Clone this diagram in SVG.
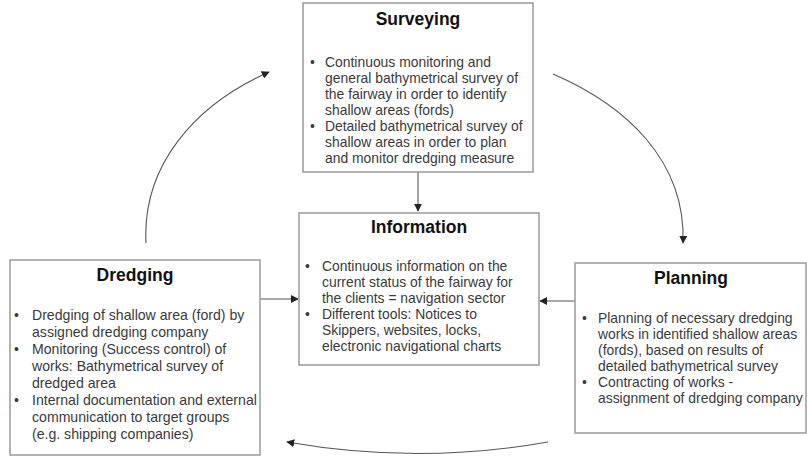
<svg xmlns="http://www.w3.org/2000/svg" width="807" height="456" viewBox="0 0 807 456">
<style>
.box{fill:#fff;stroke:#9a9a9a;stroke-width:1.5}
.title{font-family:"Liberation Sans",Arial,sans-serif;font-weight:bold;font-size:17.5px;fill:#111;text-anchor:middle}
.txt{font-family:"Liberation Sans",Arial,sans-serif;font-size:13.9px;fill:#3a3a3a}
.dtxt{font-family:"Liberation Sans",Arial,sans-serif;font-size:14.1px;fill:#3a3a3a}
.con{fill:none;stroke:#555;stroke-width:1.1}
</style>
<defs>
<marker id="ah" viewBox="0 0 10 10" refX="9" refY="5" markerWidth="8" markerHeight="8" markerUnits="userSpaceOnUse" orient="auto">
<path d="M0,0 L10,5 L0,10 z" fill="#222"/>
</marker>
</defs>
<rect width="807" height="456" fill="#fff"/>
<g id="connectors">
<line class="con" x1="418" y1="172" x2="418" y2="211" marker-end="url(#ah)"/>
<line class="con" x1="260" y1="299" x2="298" y2="299" marker-end="url(#ah)"/>
<line class="con" x1="575" y1="301" x2="540" y2="301" marker-end="url(#ah)"/>
<path class="con" d="M146,243 C142,165 195,105 269,72" marker-end="url(#ah)"/>
<path class="con" d="M553,74 C625,105 686,160 683,243" marker-end="url(#ah)"/>
<path class="con" d="M548,442 Q418,465 287,442" marker-end="url(#ah)"/>
</g>
<g id="surveying">
<rect class="box" x="303" y="3" width="230" height="169"/>
<text class="title" x="418" y="25">Surveying</text>
<text class="txt"><tspan x="310" y="67">•</tspan><tspan x="325" y="67">Continuous monitoring and</tspan><tspan x="325" y="83">general bathymetrical survey of</tspan><tspan x="325" y="99">the fairway in order to identify</tspan><tspan x="325" y="115">shallow areas (fords)</tspan><tspan x="310" y="131">•</tspan><tspan x="325" y="131">Detailed bathymetrical survey of</tspan><tspan x="325" y="147">shallow areas in order to plan</tspan><tspan x="325" y="163">and monitor dredging measure</tspan></text>
</g>
<g id="information">
<rect class="box" x="299" y="213" width="240" height="152"/>
<text class="title" x="419" y="233">Information</text>
<text class="txt"><tspan x="305" y="271">•</tspan><tspan x="322" y="271">Continuous information on the</tspan><tspan x="322" y="287">current status of the fairway for</tspan><tspan x="322" y="303">the clients = navigation sector</tspan><tspan x="305" y="319">•</tspan><tspan x="322" y="319">Different tools: Notices to</tspan><tspan x="322" y="335">Skippers, websites, locks,</tspan><tspan x="322" y="351">electronic navigational charts</tspan></text>
</g>
<g id="dredging">
<rect class="box" x="10" y="260" width="250" height="195"/>
<text class="title" x="135" y="281">Dredging</text>
<text class="dtxt"><tspan x="14" y="320">•</tspan><tspan x="32" y="320">Dredging of shallow area (ford) by</tspan><tspan x="32" y="337">assigned dredging company</tspan><tspan x="14" y="354">•</tspan><tspan x="32" y="354">Monitoring (Success control) of</tspan><tspan x="32" y="371">works: Bathymetrical survey of</tspan><tspan x="32" y="388">dredged area</tspan><tspan x="14" y="405">•</tspan><tspan x="32" y="405">Internal documentation and external</tspan><tspan x="32" y="422">communication to target groups</tspan><tspan x="32" y="439">(e.g. shipping companies)</tspan></text>
</g>
<g id="planning">
<rect class="box" x="575" y="263" width="231" height="170"/>
<text class="title" x="691" y="284">Planning</text>
<text class="txt"><tspan x="582" y="323">•</tspan><tspan x="598" y="323">Planning of necessary dredging</tspan><tspan x="598" y="339">works in identified shallow areas</tspan><tspan x="598" y="355">(fords), based on results of</tspan><tspan x="598" y="371">detailed bathymetrical survey</tspan><tspan x="582" y="387">•</tspan><tspan x="598" y="387">Contracting of works -</tspan><tspan x="598" y="403">assignment of dredging company</tspan></text>
</g>
</svg>
